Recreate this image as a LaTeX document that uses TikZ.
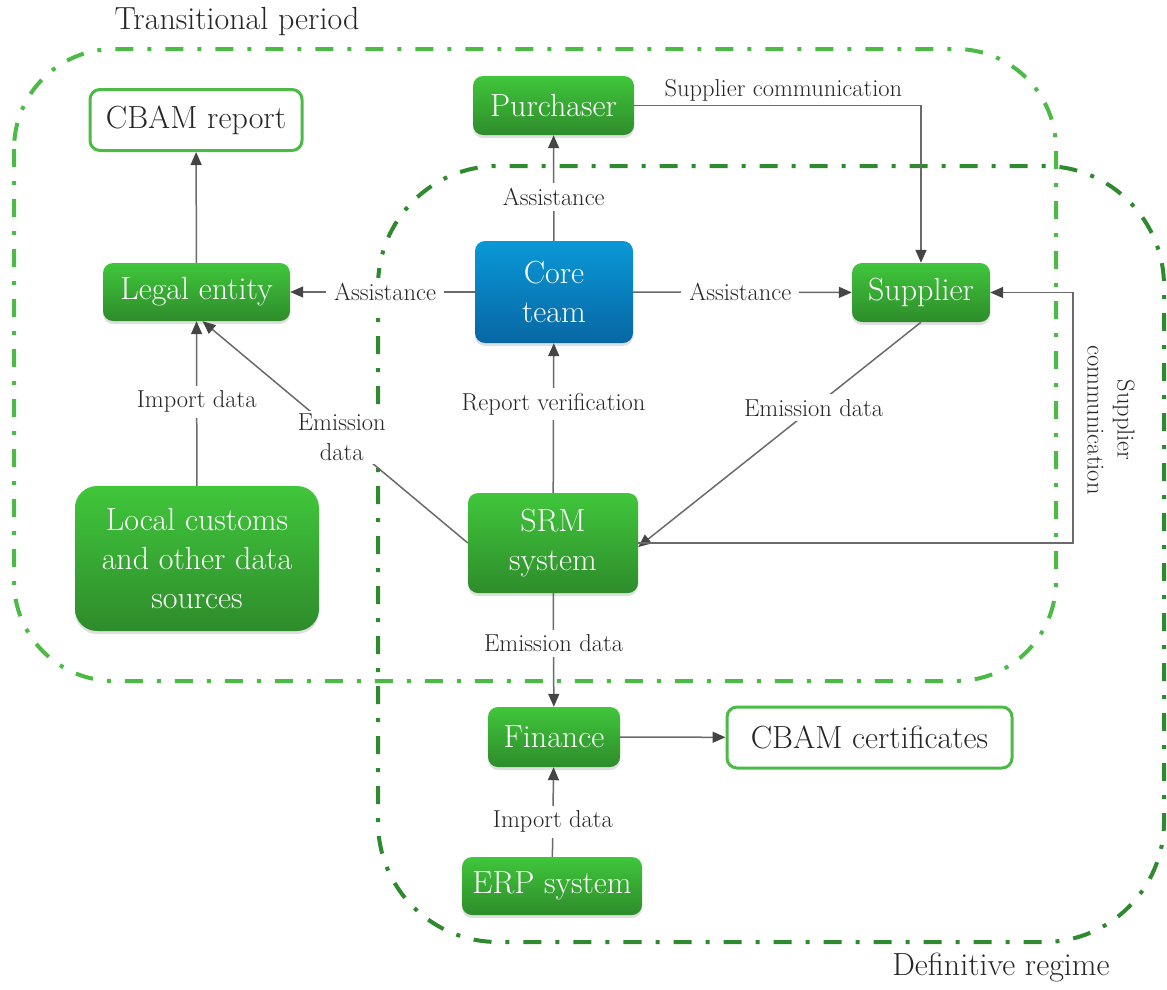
\documentclass[tikz,border=0pt]{standalone}
\usepackage{fontspec}
\usetikzlibrary{arrows.meta,shadows}

\definecolor{lgreen}{HTML}{4CBB46}
\definecolor{dgreen}{HTML}{2F8A2F}
\definecolor{gtop}{HTML}{40C63B}
\definecolor{gbot}{HTML}{2E8C2B}
\definecolor{btop}{HTML}{0A98D6}
\definecolor{bbot}{HTML}{0767A3}
\definecolor{wire}{HTML}{6A6A6A}
\definecolor{tipc}{HTML}{454545}
\definecolor{ink}{HTML}{262626}

\tikzset{
  region/.style={line width=4pt, dash pattern=on 18pt off 14pt on 4pt off 14pt},
  bigfont/.style={font=\fontsize{32}{39}\selectfont},
  smallfont/.style={font=\fontsize{24.5}{30}\selectfont},
  boxbase/.style={rounded corners=10pt, inner sep=0pt, align=center, bigfont,
    drop shadow={opacity=0.25, shadow xshift=0pt, shadow yshift=-3pt}},
  greenbox/.style={boxbase, top color=gtop, bottom color=gbot, text=white},
  bluebox/.style={boxbase, top color=btop, bottom color=bbot, text=white},
  outbox/.style={rounded corners=10pt, inner sep=0pt, draw=lgreen, line width=3pt,
    fill=white, text=ink, bigfont},
  link/.style={draw=wire, line width=1.5pt,
    -{Triangle[length=13pt, width=11pt, fill=tipc, color=tipc]}},
  lbl/.style={fill=white, text=ink, inner xsep=8pt, inner ysep=5pt, align=center,
    smallfont},
  caption/.style={text=ink, bigfont}
}

\begin{document}
\begin{tikzpicture}[x=1pt, y=-1pt]
\useasboundingbox (0,0) rectangle (1167,989);

% phase regions
\draw[region, lgreen, rounded corners=100pt] (14,49) rectangle (1056,681);
\draw[region, dgreen, rounded corners=120pt] (378,166) rectangle (1164,942);
\node[caption] (ttrans) at (237,22) {Transitional period};
\node[caption] (tdef) at (1001,968) {Definitive regime};

% actors and artefacts
\node[outbox, minimum width=212pt, minimum height=61pt] (cbamrep) at (196,120) {CBAM report};
\node[greenbox, minimum width=161pt, minimum height=59pt] (purch) at (553.5,105.5) {Purchaser};
\node[bluebox, minimum width=158pt, minimum height=102pt] (core) at (554,292) {Core\\team};
\node[greenbox, minimum width=187pt, minimum height=58pt] (legal) at (196.5,292) {Legal entity};
\node[greenbox, minimum width=138pt, minimum height=59pt] (supp) at (921,292.5) {Supplier};
\node[greenbox, rounded corners=22pt, minimum width=244pt, minimum height=145pt] (local) at (197,558.5) {Local customs\\and other data\\sources};
\node[greenbox, minimum width=170pt, minimum height=100pt] (srm) at (553,543) {SRM\\system};
\node[greenbox, minimum width=132pt, minimum height=60pt] (fin) at (554,737) {Finance};
\node[outbox, minimum width=285pt, minimum height=61pt] (cert) at (869.5,737.5) {CBAM certificates};
\node[greenbox, minimum width=180pt, minimum height=58pt] (erp) at (552,886) {ERP system};

% flows
\draw[link] (legal) -- (cbamrep);
\draw[link] (core) -- node[lbl, pos=0.415] (l1) {Assistance} (purch);
\draw[link] (core) -- node[lbl, pos=0.486] (l2) {Assistance} (legal);
\draw[link] (core) -- node[lbl, pos=0.49] (l3) {Assistance} (supp);
\draw[link] (purch.east) -| node[pos=0.26, above, text=ink, inner sep=3pt, smallfont]
  (l4) {Supplier communication} (supp.north);
\draw[link] (local) -- node[lbl, pos=0.51] (l5) {Import data} (legal);
\draw[link] (srm.west) -- node[lbl, pos=0.475, inner xsep=4pt, inner ysep=3pt] (l6) {Emission\\data} ([xshift=6pt]legal.south);
\draw[link] (srm) -- node[lbl, pos=0.593] (l7) {Report verification} (core);
\draw[link] (supp.south) -- node[lbl, pos=0.38] (l8) {Emission data} ([yshift=-4pt]srm.east);
\draw[link] (srm.east) -- ++(435,0) |- (supp.east);
\node[text=ink, rotate=-90, align=center, smallfont] (l9) at (1111,420) {Supplier\\communication};
\draw[link] (srm) -- node[lbl, pos=0.44] (l10) {Emission data} (fin);
\draw[link] (erp) -- node[lbl, pos=0.39] (l11) {Import data} (fin);
\draw[link] (fin) -- (cert);
\end{tikzpicture}
\end{document}
